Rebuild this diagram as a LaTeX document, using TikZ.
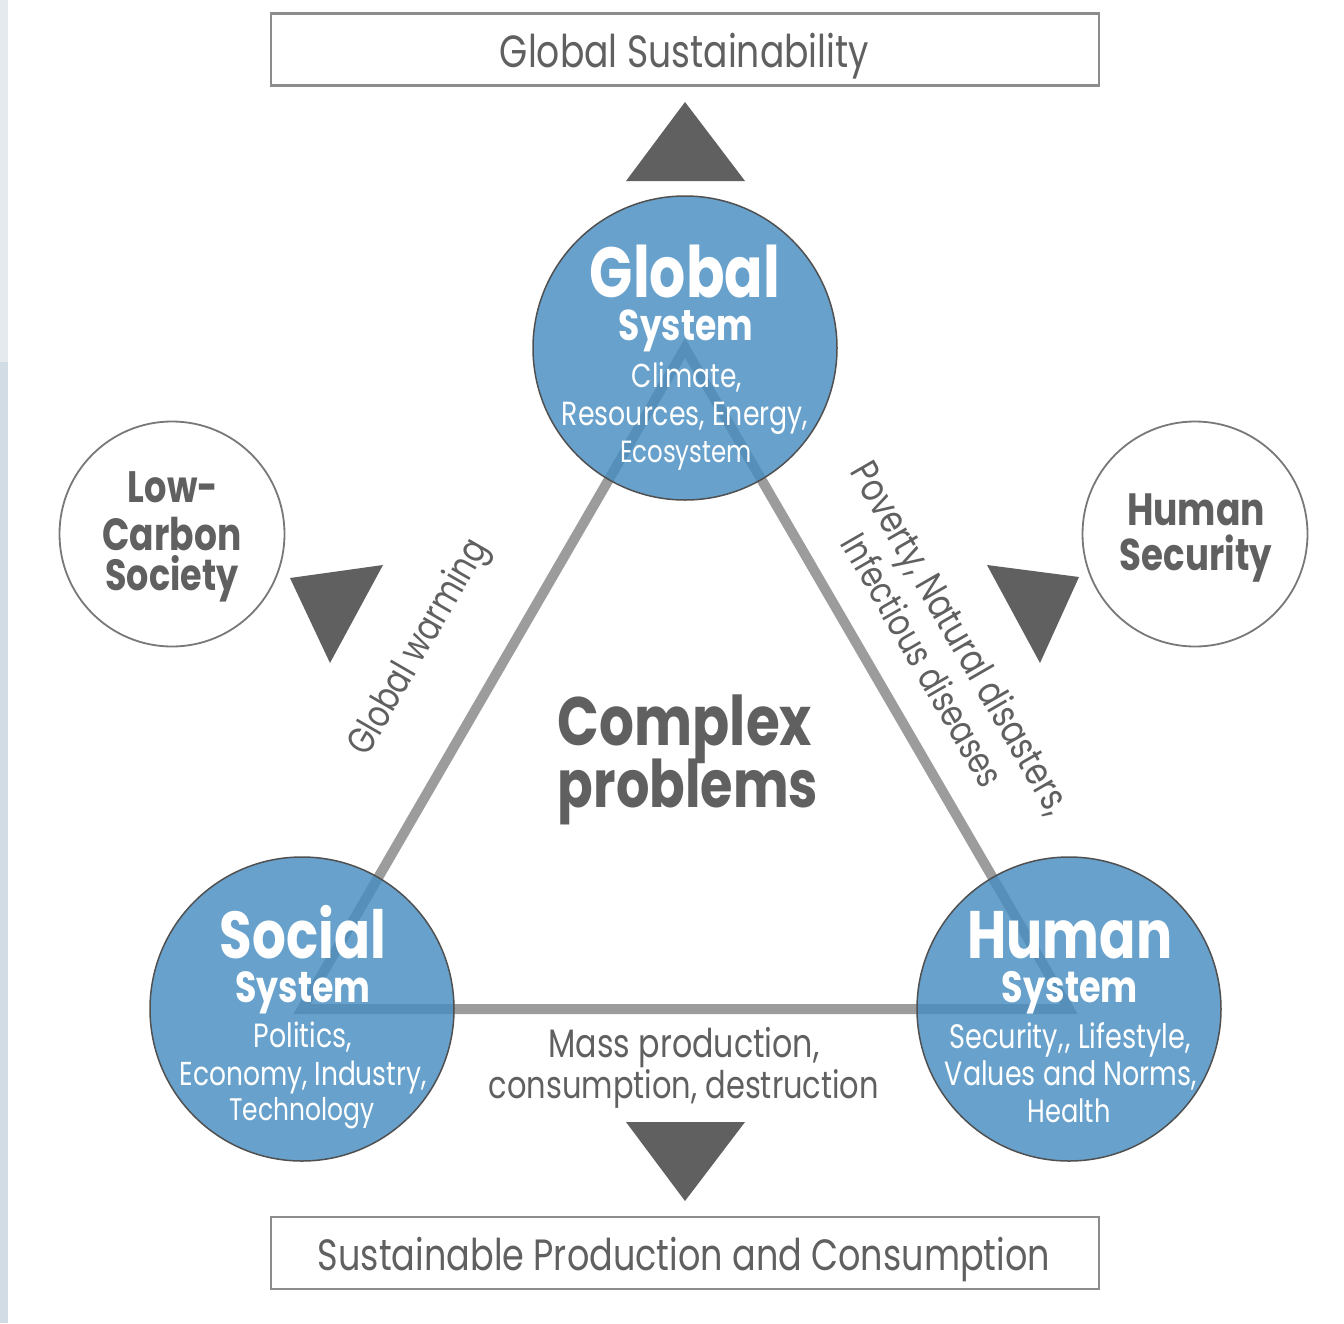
\documentclass[tikz,border=0pt]{standalone}
\usepackage{fontspec}
\usepackage{graphicx}
\setmainfont[FakeStretch=0.8]{Poppins}
\pgfdeclarelayer{bg}
\pgfdeclarelayer{lines}
\pgfsetlayers{bg,lines,main}
\definecolor{sysblue}{RGB}{71,142,193}
\definecolor{circedge}{RGB}{80,80,80}
\definecolor{linegray}{RGB}{156,156,156}
\definecolor{boxgray}{RGB}{140,140,140}
\definecolor{goalgray}{RGB}{120,120,120}
\definecolor{trigray}{RGB}{96,96,96}
\definecolor{labelgray}{RGB}{96,96,96}
\definecolor{stripA}{RGB}{229,234,239}
\definecolor{stripB}{RGB}{210,220,229}
\newcommand\fitw[2]{\resizebox{#1}{!}{#2}}
\tikzset{
  conn/.style={line width=10pt, draw=linegray, line join=miter},
  sys/.style={circle, minimum size=304pt, inner sep=0pt, fill=sysblue, fill opacity=0.82, draw=circedge, draw opacity=1, line width=1.5pt},
  goal/.style={circle, minimum size=225pt, inner sep=0pt, draw=goalgray, line width=1.8pt, fill=white},
  banner/.style={draw=boxgray, line width=2.5pt, minimum width=828pt, minimum height=72pt, inner sep=0pt},
  tri/.style={fill=trigray},
  wt/.style={text=white, inner sep=0pt, anchor=base},
  lbl/.style={text=labelgray, inner sep=0pt, anchor=base},
  rlbl/.style={text=labelgray, inner sep=0pt, anchor=center, align=center, font=\fontsize{10pt}{44pt}\selectfont},
}
\begin{document}
\begin{tikzpicture}[x=1pt,y=-1pt]
\useasboundingbox (0,0) rectangle (1344,1323);
\begin{pgfonlayer}{bg}
\fill[white] (0,0) rectangle (1344,1323);
\fill[stripA] (0,0) rectangle (8,362);
\fill[stripB] (0,362) rectangle (8,1323);
\end{pgfonlayer}

% banners
\node[banner] (topbox) at (685,49.5) {};
\node[lbl] (toptxt) at (684.5,67) {\fitw{369pt}{Global Sustainability}};
\node[banner] (botbox) at (685,1253) {};
\node[lbl] (bottxt) at (684,1270) {\fitw{732pt}{Sustainable Production and Consumption}};

% arrows (triangles)
\fill[tri] (626,181) -- (745,181) -- (685,102) -- cycle;
\fill[tri] (626,1122) -- (745,1122) -- (685,1201) -- cycle;
\fill[tri] (290,578) -- (383,565) -- (330,663) -- cycle;
\fill[tri] (987,565) -- (1079,577) -- (1040,663) -- cycle;

% system circles
\node[sys] (gs) at (685,348) {};
\node[sys] (ss) at (302,1009) {};
\node[sys] (hs) at (1069,1009) {};
\begin{pgfonlayer}{lines}
\draw[conn] (gs.center) -- (ss.center) -- (hs.center) -- cycle;
\end{pgfonlayer}

% goal circles
\node[goal] (lcs) at (172,534) {};
\node[goal] (hsec) at (1195,534) {};

% Global system text
\node[wt] (g1) at (685,297) {\fitw{190pt}{\bfseries Global}};
\node[wt] (g2) at (686,340) {\fitw{134pt}{\bfseries System}};
\node[wt] (g3) at (687,387) {\fitw{110pt}{Climate,}};
\node[wt] (g4) at (685,425) {\fitw{246pt}{Resources, Energy,}};
\node[wt] (g5) at (686,462) {\fitw{132pt}{Ecosystem}};

% Social system text
\node[wt] (s1) at (303,958) {\fitw{166pt}{\bfseries Social}};
\node[wt] (s2) at (303,1002) {\fitw{135pt}{\bfseries System}};
\node[wt] (s3) at (303,1047) {\fitw{98pt}{Politics,}};
\node[wt] (s4) at (303,1085) {\fitw{247pt}{Economy, Industry,}};
\node[wt] (s5) at (302,1120) {\fitw{145pt}{Technology}};

% Human system text
\node[wt] (h1) at (1070,958) {\fitw{205pt}{\bfseries Human}};
\node[wt] (h2) at (1070,1002) {\fitw{136pt}{\bfseries System}};
\node[wt] (h3) at (1070,1048) {\fitw{241pt}{Security,\kern0.6pt,\kern0pt{} Lifestyle,}};
\node[wt] (h4) at (1071,1085) {\fitw{252pt}{Values and Norms,}};
\node[wt] (h5) at (1069,1122) {\fitw{83pt}{Health}};

% goal texts
\node[lbl] (l1) at (173,502) {\fitw{90pt}{\bfseries Low-}};
\node[lbl] (l2) at (172,550) {\fitw{139pt}{\bfseries Carbon}};
\node[lbl] (l3) at (172,590) {\fitw{133pt}{\bfseries Society}};
\node[lbl] (r1) at (1196,525) {\fitw{138pt}{\bfseries Human}};
\node[lbl] (r2) at (1196,570) {\fitw{152pt}{\bfseries Security}};

% centre
\node[lbl] (c1) at (685,745) {\fitw{254pt}{\bfseries Complex}};
\node[lbl] (c2) at (688,807) {\fitw{260pt}{\bfseries problems}};

% edge labels
\node[rlbl, rotate=60] (gw) at (420,648) {\fitw{242pt}{Global warming}};
\node[rlbl, rotate=-60] (pov) at (943,648.5) {\fitw{400pt}{Poverty, Natural disasters,}\\\fitw{285pt}{Infectious diseases}};
\node[lbl] (m1) at (684,1057) {\fitw{271pt}{Mass production,}};
\node[lbl] (m2) at (684,1098) {\fitw{390pt}{consumption, destruction}};
\end{tikzpicture}
\end{document}
